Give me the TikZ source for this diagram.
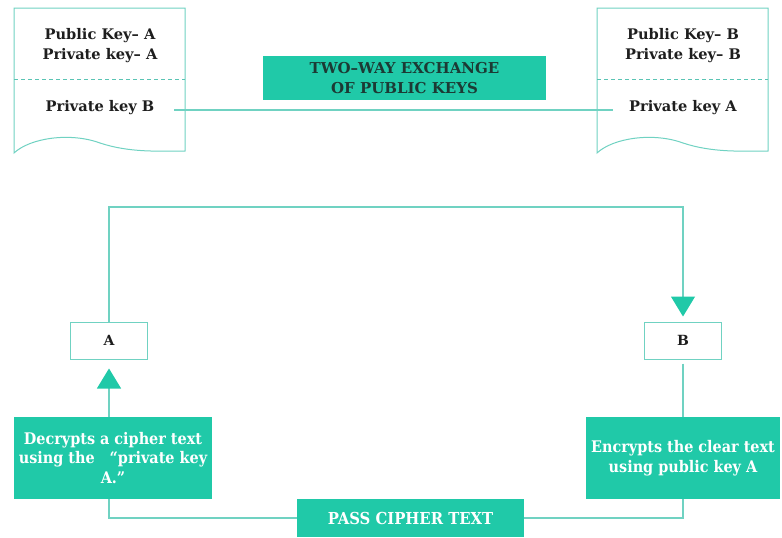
\documentclass[tikz,border=0pt]{standalone}
\usepackage{fontspec}
\setmainfont{DejaVu Serif}
\newfontfamily\narrowserif{DejaVu Serif Condensed}
\usetikzlibrary{arrows.meta,calc}
\definecolor{keyfill}{RGB}{32,201,168}
\definecolor{keyline}{RGB}{112,210,194}
\definecolor{dashline}{RGB}{90,196,180}
\definecolor{inktext}{RGB}{30,30,30}
\definecolor{bannertext}{RGB}{28,58,52}
\tikzset{
  link/.style={draw=keyline, line width=1.2pt},
  paper/.style={draw=keyline, line width=1pt},
  doctext/.style={text=inktext, font=\bfseries\fontsize{14.6}{20}\selectfont, anchor=base, inner sep=0pt},
  greenbox/.style={fill=keyfill, draw=none, text=white, align=center, inner sep=0pt,
                   font=\narrowserif\bfseries\fontsize{16}{19.5}\selectfont},
  partybox/.style={draw=keyline, line width=1pt, fill=white, minimum width=77pt, minimum height=37pt,
                   inner sep=0pt, text=inktext, font=\bfseries\fontsize{14}{15}\selectfont},
  bigtip/.style={-{Triangle[width=24pt,length=20pt,fill=keyfill,color=keyfill]}}
}
\begin{document}
\begin{tikzpicture}[x=1pt,y=-1pt]
\useasboundingbox (0,0) rectangle (782,538);

% key sheets of the two parties
\foreach \dx in {0,583}{
  \draw[paper, fill=white] (14+\dx,8) -- (185+\dx,8) -- (185+\dx,151)
    .. controls (160+\dx,151) and (130+\dx,153) .. (100+\dx,143)
    .. controls (70+\dx,132) and (30+\dx,138) .. (14+\dx,153) -- cycle;
  \draw[dashline, line width=1pt, dash pattern=on 4pt off 3pt] (14+\dx,79) -- (185+\dx,79);
}
\node[doctext] (pubA) at (100,39) {Public Key– A};
\node[doctext] (prvA) at (100,59) {Private key– A};
\node[doctext] (pkB)  at (100,111) {Private key B};
\node[doctext] (pubB) at (683,39) {Public Key– B};
\node[doctext] (prvB) at (683,59) {Private key– B};
\node[doctext] (pkA)  at (683,111) {Private key A};

% exchange of the public keys
\draw[link] ([xshift=20pt,yshift=1pt]pkB.base east) -- ([xshift=-16pt,yshift=1pt]pkA.base west);
\node[fill=keyfill, minimum width=283pt, minimum height=44pt, inner sep=0pt, align=center,
      text=bannertext, font=\bfseries\fontsize{15}{20}\selectfont] (xchg) at (404.5,78)
      {TWO–WAY EXCHANGE\\OF PUBLIC KEYS};

% the two parties
\node[partybox] (A) at (109,340.5) {A};
\node[partybox] (B) at (683,340.5) {B};
\coordinate (loop) at (395,207);

% operations
\node[greenbox, minimum width=198pt, minimum height=82pt] (dec) at (113,458)
  {Decrypts a cipher text\\using the \ \ “private key\\A.”};
\node[greenbox, minimum width=194pt, minimum height=82pt] (enc) at (683,458)
  {Encrypts the clear text\\using public key A};
\node[greenbox, font=\narrowserif\bfseries\fontsize{16.5}{18}\selectfont, minimum width=227pt, minimum height=38pt] (pass) at (410.5,518)
  {PASS CIPHER TEXT};

% connectors
\draw[link, bigtip, shorten >=5pt] (A.north) |- (loop) -| (B.north);
\draw[link, shorten <=4pt] (B.south) -- (B.south |- enc.north);
\draw[link] (enc.south -| B.south) |- (pass.east);
\draw[link] (pass.west) -| (dec.south -| A.south);
\draw[link, bigtip, shorten >=9pt] (dec.north -| A.south) -- (A.south);
\end{tikzpicture}
\end{document}
